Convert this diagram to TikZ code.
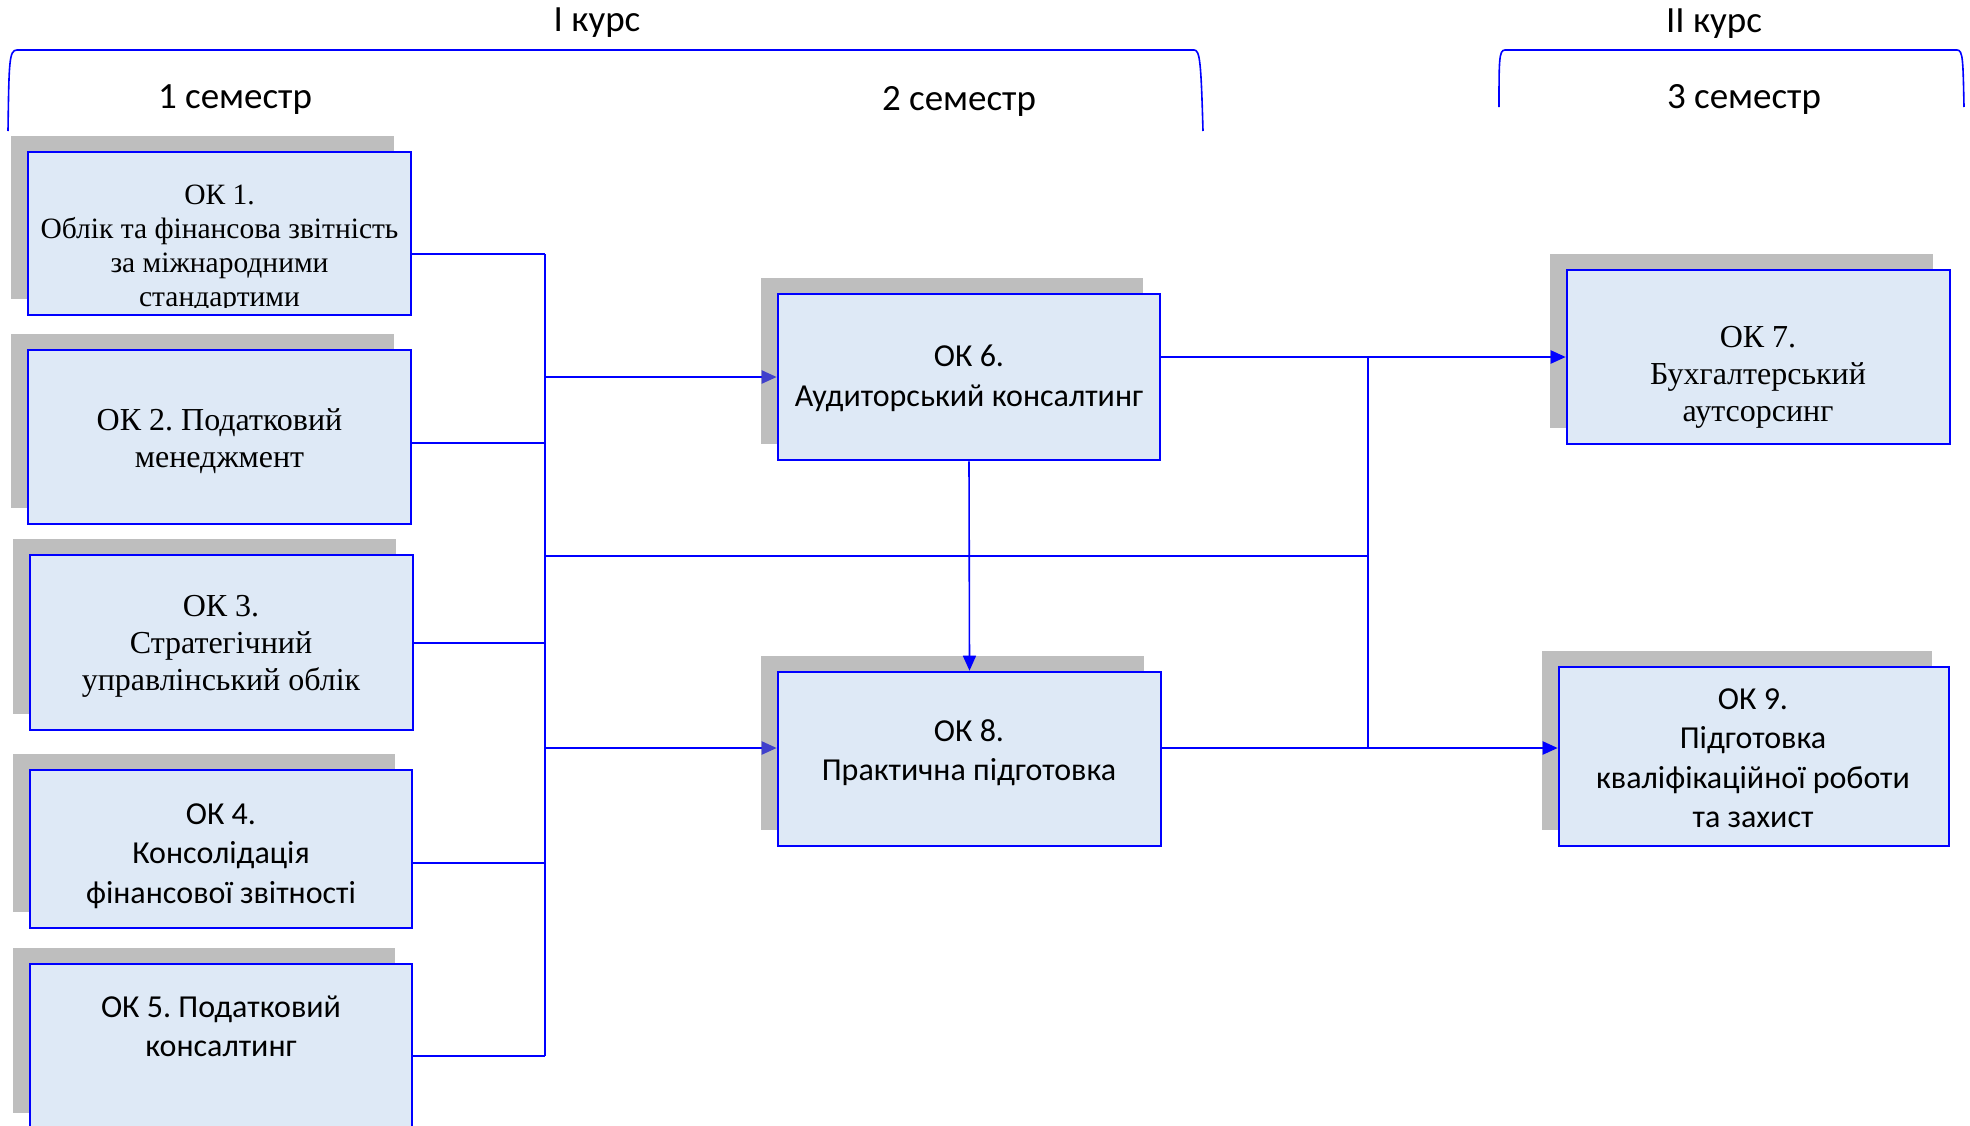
\documentclass[tikz,border=0pt]{standalone}
\usepackage{fontspec}
\setmainfont{Liberation Serif}
\newfontfamily\calibri{Carlito}
\usetikzlibrary{arrows.meta}
\frenchspacing
\definecolor{lineblue}{RGB}{0,0,255}
\definecolor{boxfill}{RGB}{222,233,246}
\definecolor{shadowgray}{RGB}{190,190,190}
\definecolor{tipblue}{RGB}{64,64,204}
\tikzset{
  okbox/.style={draw=lineblue, line width=2.6pt, fill=boxfill, inner sep=0pt},
  shadowbox/.style={fill=shadowgray, draw=none, inner sep=0pt},
  hdr/.style={font=\calibri\fontsize{37}{44}\selectfont, inner sep=0pt},
  sertext/.style={font=\fontsize{32}{37}\selectfont, align=center, inner sep=0pt},
  santext/.style={font=\calibri\fontsize{32}{39.5}\selectfont, align=center, inner sep=0pt},
  conn/.style={draw=lineblue, line width=2.2pt},
  thinconn/.style={draw=lineblue, line width=1.6pt},
  arr/.style={conn, -{Triangle[length=15pt,width=13pt]}},
  arrp/.style={conn, -{Triangle[length=15pt,width=13pt,color=tipblue]}},
  arrthin/.style={thinconn, -{Triangle[length=15pt,width=13pt]}},
  brack/.style={draw=lineblue, line width=1.6pt}
}
\begin{document}
\begin{tikzpicture}[x=1pt,y=-1pt]
\useasboundingbox (0,0) rectangle (1970,1125);
\fill[white] (0,0) rectangle (1970,1125);

% headers
\node[hdr] (k1) at (597,22.5) {I курс};
\node[hdr] (k2) at (1714,23.5) {II курс};
\node[hdr] (h1) at (235,99.5) {1 семестр};
\node[hdr] (h2) at (959,101.5) {2 семестр};
\node[hdr] (h3) at (1744,99.5) {3 семестр};

% brackets
\draw[brack] (8,131) .. controls (9,62) and (9,50) .. (17,50) -- (1194,50) .. controls (1200,50) and (1201,62) .. (1203,131);
\draw[brack] (1499,107) .. controls (1499,60) and (1499,50) .. (1505,50) -- (1957,50) .. controls (1963,50) and (1963,60) .. (1964,107);

% shadows
\node[shadowbox, minimum width=383pt, minimum height=163pt] (sh1) at (202.5,217.5) {};
\node[shadowbox, minimum width=383pt, minimum height=174pt] (sh2) at (202.5,421) {};
\node[shadowbox, minimum width=383pt, minimum height=175pt] (sh3) at (204.5,626.5) {};
\node[shadowbox, minimum width=382pt, minimum height=158pt] (sh4) at (204,833) {};
\node[shadowbox, minimum width=382pt, minimum height=165pt] (sh5) at (204,1030) {};
\node[shadowbox, minimum width=382pt, minimum height=166pt] (sh6) at (952,361) {};
\node[shadowbox, minimum width=383pt, minimum height=174pt] (sh8) at (952.5,743) {};
\node[shadowbox, minimum width=383pt, minimum height=174pt] (sh7) at (1741.5,341) {};
\node[shadowbox, minimum width=390pt, minimum height=179pt] (sh9) at (1737,740.5) {};

% boxes
\node[okbox, minimum width=383pt, minimum height=163pt] (ok1) at (219.5,233.5) {};
\node[okbox, minimum width=383pt, minimum height=174pt] (ok2) at (219.5,437) {};
\node[okbox, minimum width=383pt, minimum height=175pt] (ok3) at (221.5,642.5) {};
\node[okbox, minimum width=382pt, minimum height=158pt] (ok4) at (221,849) {};
\node[okbox, minimum width=382pt, minimum height=175pt] (ok5) at (221,1051.5) {};
\node[okbox, minimum width=382pt, minimum height=166pt] (ok6) at (969,377) {};
\node[okbox, minimum width=383pt, minimum height=174pt] (ok8) at (969.5,759) {};
\node[okbox, minimum width=383pt, minimum height=174pt] (ok7) at (1758.5,357) {};
\node[okbox, minimum width=390pt, minimum height=179pt] (ok9) at (1754,756.5) {};

% texts
\begin{scope}
\clip (ok1.north west) rectangle (ok1.east |- 0,307);
\node[sertext, font=\fontsize{29.5}{34}\selectfont] (t1) at (219.5,249) {ОК 1.\\Облік та фінансова звітність\\за міжнародними\\стандартими};
\end{scope}
\node[sertext] (t2) at (219.5,441) {ОК 2. Податковий\\менеджмент};
\node[sertext] (t3) at (221,646.5) {ОК 3.\\Стратегічний\\управлінський облік};
\node[santext] (t4) at (221,856) {ОК 4.\\Консолідація\\фінансової звітності};
\node[santext] (t5) at (221,1026.5) {ОК 5. Податковий\\консалтинг};
\node[santext] (t6) at (969,378.5) {ОК 6.\\Аудиторський консалтинг};
\node[santext] (t8) at (969,752.5) {ОК 8.\\Практична підготовка};
\node[sertext] (t7) at (1758,377) {ОК 7.\\Бухгалтерський\\аутсорсинг};
\node[santext] (t9) at (1753,758) {ОК 9.\\Підготовка\\кваліфікаційної роботи\\та захист};

% junctions
\coordinate (j1) at (545,254);
\coordinate (j2) at (545,443);
\coordinate (j3) at (545,643);
\coordinate (j4) at (545,863);
\coordinate (j5) at (545,1056);
\coordinate (j6) at (545,377);
\coordinate (jm) at (545,556);
\coordinate (j8) at (545,748);
\coordinate (r1) at (1368,357);
\coordinate (rm) at (1368,556);
\coordinate (r2) at (1368,748);

% connectors
\draw[conn] (ok1.east|-j1) -- (j1);
\draw[conn] (ok2.east|-j2) -- (j2);
\draw[conn] (ok3.east|-j3) -- (j3);
\draw[conn] (ok4.east|-j4) -- (j4);
\draw[conn] (ok5.east|-j5) -- (j5);
\draw[conn] (j1) -- (j5);
\draw[arrp] (j6) -- (ok6.west|-j6);
\draw[arrp] (j8) -- (ok8.west|-j8);
\draw[conn] (jm) -- (rm);
\draw[thinconn] (r1) -- (r2);
\draw[arr] (ok6.east|-r1) -- (ok7.west|-r1);
\draw[arr] (ok8.east|-r2) -- (ok9.west|-r2);
\draw[arrthin] (ok6.south) -- (ok8.north);
\end{tikzpicture}
\end{document}
